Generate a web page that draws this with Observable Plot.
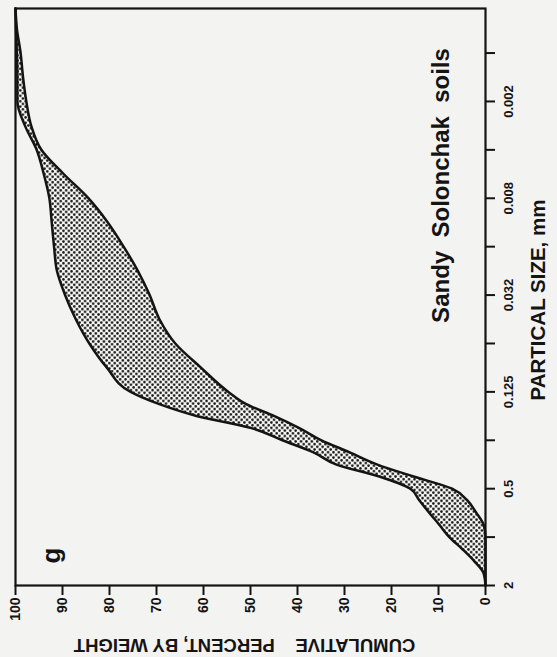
<!DOCTYPE html>
<html><head><meta charset="utf-8">
<script src="https://cdn.jsdelivr.net/npm/d3@7"></script>
<script src="https://cdn.jsdelivr.net/npm/@observablehq/plot@0.6"></script>
<style>html,body{margin:0;padding:0;background:#f3f3f1;}</style>
</head><body><div id="chart"></div>
<script>
// particle size (mm) at which the two envelope curves were read
const particleSize = [2, 1.68, 1.41, 1.19, 1.0, 0.84, 0.71, 0.59, 0.5, 0.42, 0.354, 0.297, 0.25, 0.21, 0.177, 0.149, 0.125,
  0.088, 0.0625, 0.044, 0.031, 0.022, 0.0156, 0.011, 0.0078, 0.0055, 0.0039, 0.0028, 0.00195, 0.00138, 0.00098, 0.00069, 0.000516];
// cumulative percent by weight, finer-textured envelope (higher percent)
const upperPct = [0, 0.4, 2.4, 4.9, 7.7, 9.8, 11.9, 14.1, 16.0, 22.6, 31.7, 36.6, 43.2, 49.8, 61.3, 69.4, 75.5,
  80.6, 84.3, 87.2, 89.5, 91.2, 91.8, 92.3, 92.8, 94.0, 95.5, 97.9, 99.6, 99.6, 99.7, 99.9, 100];
// cumulative percent by weight, coarser-textured envelope (lower percent)
const lowerPct = [0, 0, 0, 0, 0, 0.4, 1.9, 3.9, 7.1, 15.3, 23.0, 28.9, 34.9, 39.6, 44.9, 50.9, 54.7,
  60.6, 66.0, 69.4, 71.5, 74.0, 77.0, 80.4, 84.5, 89.8, 94.5, 96.6, 97.7, 98.4, 98.9, 99.7, 100];

const percentTicks = [0, 10, 20, 30, 40, 50, 60, 70, 80, 90, 100];
const sizeTicks = [2, 1, 0.5, 0.25, 0.125, 0.0625, 0.03125, 0.015625, 0.0078125, 0.00390625, 0.001953125, 0.0009765625];
const sizeLabelValues = [2, 0.5, 0.125, 0.03125, 0.0078125, 0.001953125];
const sizeLabels = ["2", "0.5", "0.125", "0.032", "0.008", "0.002"];

const panelLabel = "g";
const soilTitle = "Sandy\u00A0\u00A0Solonchak\u00A0\u00A0soils";
const xTitle = "PARTICAL SIZE, mm";
const yTitle = "CUMULATIVE\u00A0\u00A0\u00A0\u00A0PERCENT, BY WEIGHT";

const rows = particleSize.map((s, i) => ({size: s, upper: upperPct[i], lower: lowerPct[i]}));
const ink = "#141414";
const font = "'Liberation Sans', Arial, Helvetica, sans-serif";
const centered = {textAnchor: "middle", lineAnchor: "middle", fontWeight: "bold", fill: ink};

const svg = Plot.plot({
  width: 557, height: 657,
  marginLeft: 15, marginRight: 72, marginTop: 8, marginBottom: 72,
  style: {background: "#f3f3f1", fontFamily: font, color: ink},
  x: {domain: [100, 0]},
  y: {type: "log", domain: [2, 0.000516]},
  marks: [
    Plot.areaX(rows, {y: "size", x1: "lower", x2: "upper", fill: "url(#dots)", curve: "monotone-y"}),
    Plot.lineX(rows, {y: "size", x: "upper", stroke: ink, strokeWidth: 2.5, curve: "monotone-y"}),
    Plot.lineX(rows, {y: "size", x: "lower", stroke: ink, strokeWidth: 2.5, curve: "monotone-y"}),
    Plot.frame({stroke: ink, strokeWidth: 2.2}),
    Plot.axisX({anchor: "bottom", ticks: percentTicks, tickSize: 10, tickFormat: () => "", label: null, strokeWidth: 2, stroke: ink}),
    Plot.axisY({anchor: "right", ticks: sizeTicks, tickSize: 9, tickFormat: () => "", label: null, strokeWidth: 2, stroke: ink}),
    Plot.text(percentTicks, {x: d => d, text: d => String(d), frameAnchor: "bottom", dy: 12, rotate: -90,
      textAnchor: "end", lineAnchor: "middle", fontSize: 14, fontWeight: "bold", fill: ink}),
    Plot.text(sizeLabelValues, {y: d => d, text: (d, i) => sizeLabels[i], frameAnchor: "right", dx: 18, rotate: -90,
      textAnchor: "middle", lineAnchor: "top", fontSize: 13, fontWeight: "bold", fill: ink}),
    Plot.text([xTitle], {...centered, text: d => d, frameAnchor: "right", dx: 53, dy: 3, rotate: -90, fontSize: 20.5}),
    Plot.text([yTitle], {...centered, text: d => d, frameAnchor: "bottom", dx: -6, dy: 59, rotate: 180, fontSize: 18.5}),
    Plot.text([soilTitle], {...centered, text: d => d, frameAnchor: "top-right", dx: -44, dy: 177, rotate: -90, fontSize: 24}),
    Plot.text([panelLabel], {...centered, text: d => d, frameAnchor: "bottom-left", dx: 36, dy: -30, rotate: -90, fontSize: 26})
  ]
});

const defs = d3.select(svg).insert("defs", ":first-child");
const pat = defs.append("pattern").attr("id", "dots").attr("patternUnits", "userSpaceOnUse")
  .attr("width", 5.4).attr("height", 5.4);
pat.append("rect").attr("width", 5.4).attr("height", 5.4).attr("fill", "#f7f7f5");
pat.append("circle").attr("cx", 1.35).attr("cy", 1.35).attr("r", 1.3).attr("fill", ink);
pat.append("circle").attr("cx", 4.05).attr("cy", 4.05).attr("r", 1.3).attr("fill", ink);

document.getElementById("chart").appendChild(svg);
</script>
</body></html>
